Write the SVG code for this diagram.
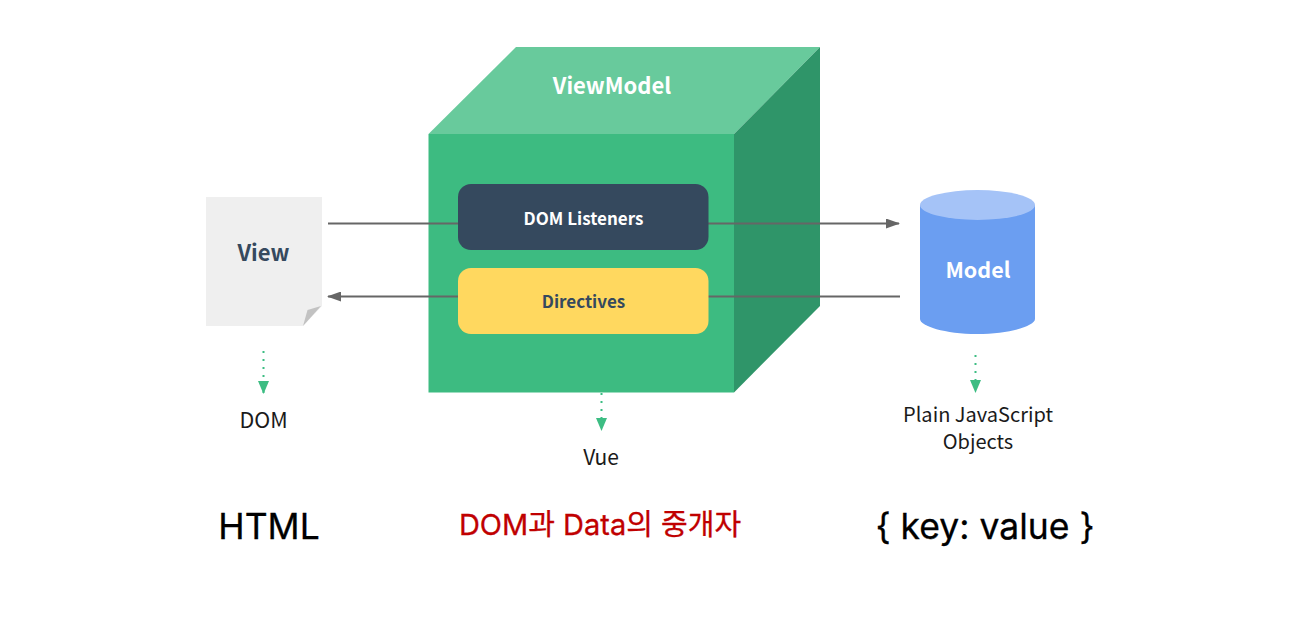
<svg xmlns="http://www.w3.org/2000/svg" width="1290" height="620" viewBox="0 0 1290 620">
<style>
.s{font-family:"Noto Sans CJK KR","Noto Sans",sans-serif}
.b{font-weight:700;text-anchor:middle}
.l{font-size:20px;fill:#1a1a1a;text-anchor:middle}
.big{font-family:"Inter","Noto Sans CJK KR",sans-serif;font-size:35.500px;font-weight:400;fill:#000;text-anchor:middle;stroke:#000;stroke-width:.3px}
.c{stroke:#666;stroke-width:2;fill:none}
.d{stroke:#3dbd83;stroke-width:2;stroke-dasharray:2 6;fill:none}
</style>
<defs>
<marker id="a" markerUnits="userSpaceOnUse" markerWidth="14" markerHeight="10" refX="13" refY="5" orient="auto"><path d="M0 0L14 5L0 10z" fill="#666"/></marker>
<marker id="g" markerUnits="userSpaceOnUse" markerWidth="11" markerHeight="13" refX="5.500" refY="13" orient="0"><path d="M0 0H11L5.500 13z" fill="#3dbd83"/></marker>
</defs>
<rect width="1290" height="620" fill="#fff"/>
<g id="view"><path d="M206 197H322V306L303 326H206z" fill="#efefef"/><path d="M303 326L307.500 310L321 306z" fill="#c2c2c2"/><text class="s b" x="263.500" y="261" font-size="22" fill="#35495e">View</text></g>
<g id="viewmodel"><path d="M428.500 134L516 47H820L734 134z" fill="#68ca9c"/><path d="M734 134L820 47V306L734 392.500z" fill="#2f9569"/><rect x="428.500" y="134" width="305.500" height="258.500" fill="#3dbb81"/><text class="s b" x="612" y="93.500" font-size="22" fill="#fff">ViewModel</text></g>
<g id="connectors">
<path class="c" d="M328 223.500H458M708 223.500H899" marker-end="url(#a)"/>
<path class="c" d="M458 296.500H328" marker-end="url(#a)"/><path class="c" d="M900 296.500H708"/>
<path class="d" d="M263.500 351V394" marker-end="url(#g)"/>
<path class="d" d="M601.500 393V431" marker-end="url(#g)"/>
<path class="d" d="M975.500 355V393" marker-end="url(#g)"/>
</g>
<g id="listeners"><rect x="458" y="184" width="250.500" height="66" rx="13" fill="#35495e"/><text class="s b" x="583.500" y="224.500" font-size="17" fill="#fff">DOM Listeners</text></g>
<g id="directives"><rect x="458" y="268" width="250.500" height="66" rx="13" fill="#ffd85f"/><text class="s b" x="583.500" y="307.500" font-size="17" fill="#35495e">Directives</text></g>
<g id="model"><path d="M920 205V319C920 326 945 334 977 334S1035 326 1035 319V205z" fill="#6b9ef1"/><ellipse cx="977.500" cy="205" rx="57.500" ry="15" fill="#a5c3f7"/><text class="s b" x="978" y="278" font-size="21.500" fill="#fff">Model</text></g>
<g id="labels">
<text class="s l" x="263.500" y="428" style="font-size:21.500px">DOM</text>
<text class="s l" x="601" y="465" style="font-size:21px">Vue</text>
<text class="s l" x="978" y="422">Plain JavaScript<tspan x="978" dy="27">Objects</tspan></text>
<text class="big" x="269" y="539">HTML</text>
<text class="big" x="600" y="535" style="font-size:29px;fill:#c00000;stroke:#c00000">DOM과 Data의 중개자</text>
<text class="big" x="985" y="539">{ key: value }</text>
</g>
</svg>
